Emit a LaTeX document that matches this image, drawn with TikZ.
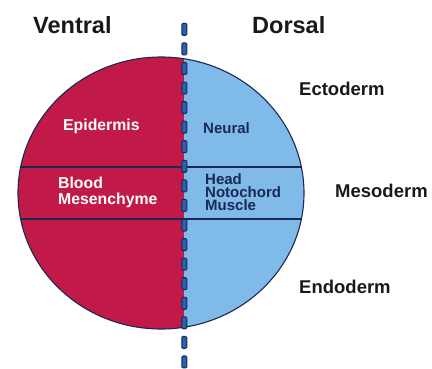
\documentclass[tikz,border=0pt]{standalone}
\usepackage{fontspec}
\setmainfont{Liberation Sans}
\definecolor{ventralred}{RGB}{194,26,72}
\definecolor{dorsalblue}{RGB}{128,186,232}
\definecolor{navy}{RGB}{26,40,86}
\definecolor{dashblue}{RGB}{40,98,170}

\begin{document}
\begin{tikzpicture}[x=1pt,y=-1pt,
    title/.style={anchor=base west, inner sep=0pt, text=black!90, font=\bfseries\fontsize{23.5}{24}\selectfont},
    layer/.style={anchor=base west, inner sep=0pt, text=black!90, font=\bfseries\fontsize{18.5}{19}\selectfont},
    ventral/.style={anchor=base west, inner sep=0pt, align=left, text=white, font=\bfseries\fontsize{15.8}{16}\selectfont},
    dorsal/.style={anchor=base west, inner sep=0pt, align=left, text=navy, font=\bfseries\fontsize{15}{12.6}\selectfont},
    border/.style={draw=navy, line width=1.1pt},
    axisdash/.style={fill=dashblue, draw=navy, line width=1pt, rounded corners=1.2pt}]
  \useasboundingbox (0,0) rectangle (432,368);
  \coordinate (c) at (161,193);

  \begin{scope}
    \clip (0,0) rectangle (184,368);
    \fill[ventralred] (c) ellipse [x radius=143, y radius=136];
  \end{scope}
  \begin{scope}
    \clip (184,0) rectangle (432,368);
    \fill[dorsalblue] (c) ellipse [x radius=143, y radius=136];
  \end{scope}
  \begin{scope}
    \clip (c) ellipse [x radius=143, y radius=136];
    \draw[border] (0,167) -- (432,167);
    \draw[border] (0,219) -- (432,219);
  \end{scope}
  \draw[border] (c) ellipse [x radius=143, y radius=136];

  \foreach \k in {0,...,17}
    \draw[axisdash] (181.8,{23.3+19.57*\k}) rectangle ++(5,12);

  \node[title] (ventral) at (33,33) {Ventral};
  \node[title] (dorsal) at (252,33) {Dorsal};
  \node[layer] (ecto) at (299,95) {Ectoderm};
  \node[layer] (meso) at (335,197) {Mesoderm};
  \node[layer] (endo) at (299,293) {Endoderm};

  \node[ventral] (epid) at (63,130) {Epidermis};
  \node[ventral] (blood) at (58,204) {Blood\\Mesenchyme};
  \node[dorsal] (neural) at (203,133) {Neural};
  \node[dorsal] (head) at (205,210) {Head\\Notochord\\Muscle};
\end{tikzpicture}
\end{document}
